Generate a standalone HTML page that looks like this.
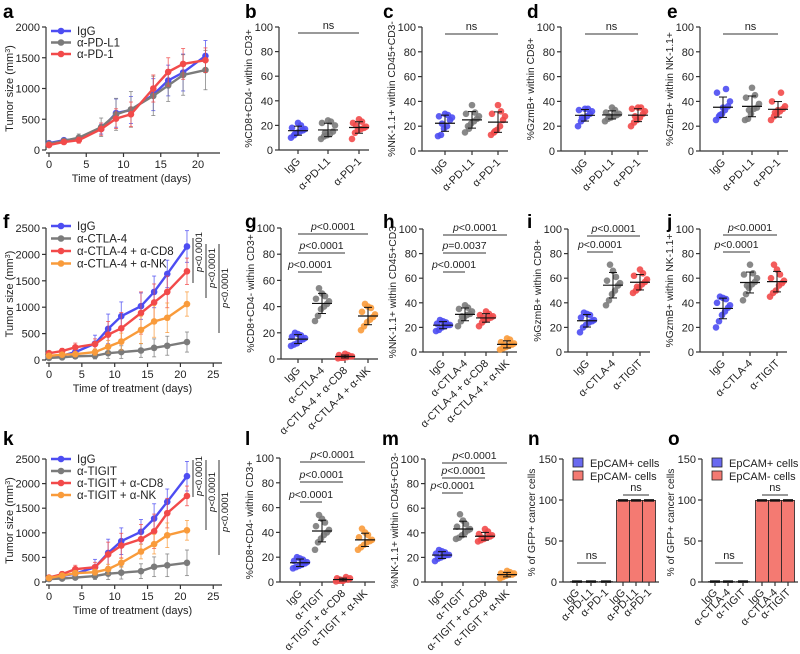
<!DOCTYPE html>
<html><head><meta charset="utf-8"><style>
html,body{margin:0;padding:0;background:#fff}
svg{display:block;font-family:"Liberation Sans",Arial,sans-serif}
</style></head><body>
<svg id="fig" width="800" height="654" viewBox="0 0 800 654"></svg>
<script>
// ---------- DATA ----------
const days=[0,2,4,7,9,11,14,16,18,21];
const aNames=["IgG","α-PD-L1","α-PD-1"];
const aIgG=[110,160,180,340,600,650,900,1130,1260,1530];
const aPDL1=[100,150,200,370,580,660,880,1050,1220,1300];
const aPD1=[80,130,160,340,510,580,1000,1270,1400,1460];
const aErr=[[30,30,40,80,230,220,260,250,300,250],[30,30,60,150,260,290,320,260,330,320],[30,30,50,100,160,200,220,230,250,200]];
const fNames=["IgG","α-CTLA-4","α-CTLA-4 + α-CD8","α-CTLA-4 + α-NK"];
const fIgG=[50,80,150,310,590,830,1020,1290,1630,2150];
const fCTLA=[40,50,70,80,130,150,180,230,270,340];
const fCD8=[130,170,240,300,480,600,890,1090,1290,1680];
const fNK=[80,100,110,150,250,350,570,730,800,1060];
const fErr=[[30,40,60,160,280,270,250,300,260,300],[30,30,40,60,100,120,130,170,180,190],[40,50,80,100,250,300,400,350,300,250],[30,40,40,60,120,160,260,300,280,230]];
const kNames=["IgG","α-TIGIT","α-TIGIT + α-CD8","α-TIGIT + α-NK"];
const kIgG=[70,120,170,300,590,830,1020,1290,1630,2150];
const kTIGIT=[60,70,90,120,170,190,220,310,340,390];
const kCD8=[90,160,260,300,560,740,870,1030,1400,1750];
const kNK=[80,130,180,200,260,390,620,770,950,1050];
const kErr=[[30,40,60,160,280,270,250,300,260,300],[30,30,40,70,120,130,150,200,230,260],[40,50,80,100,250,250,300,350,300,200],[30,40,50,60,100,90,150,200,250,200]];
const tick2000=[0,500,1000,1500,2000];
const tick2500=[0,500,1000,1500,2000,2500];
const tickPct=[0,20,40,60,80,100];
const bGroups=[[10,12,14,15,16,17,18,20,22,13],[9,11,12,13,15,20,22,23,24,14],[9,14,16,17,18,19,22,23,25,20]];
const cGroups=[[12,13,18,20,25,27,28,29,30,22],[15,20,22,24,26,28,30,31,37,18],[13,15,17,20,25,28,30,32,37,16]];
const dGroups=[[20,24,26,28,30,32,33,34,34,27],[24,26,27,28,29,30,31,33,35,28],[20,23,25,27,30,32,34,35,35,28]];
const eGroups=[[25,28,30,33,36,40,47,50,35,29],[25,26,30,34,35,38,43,45,51,33],[25,28,30,32,34,36,40,47,33,31]];
const gGroups=[[10,11,12,14,15,16,17,18,19,20],[29,33,38,40,42,44,46,48,50,54],[0.5,1,1,1.5,2,2,3,3,4,1],[22,25,28,30,32,34,36,39,40,42]];
const hGroups=[[17,18,20,21,22,22,23,24,25,26],[21,25,28,30,31,33,35,36,38,29],[21,24,26,27,28,29,30,31,33,28],[2,3,4,5,6,7,8,10,11,6]];
const iGroups=[[16,20,22,24,25,26,28,30,31,32],[38,42,47,50,54,56,58,61,66,71],[48,50,52,55,57,59,62,64,67,53]];
const jGroups=[[20,25,30,33,36,38,40,43,44,45],[42,47,52,55,57,60,63,64,71,54],[45,48,50,54,56,58,60,63,67,71]];
const lGroups=[[11,12,13,14,15,16,17,18,19,20],[26,32,35,38,40,42,45,48,51,54],[0.5,1,1,2,2,3,3,4,1,2],[26,28,30,32,33,34,36,38,40,43]];
const mGroups=[[17,19,20,21,22,22,23,24,25,26],[35,36,38,40,42,43,45,47,50,55],[33,34,35,36,37,38,39,41,43,36],[3,4,5,6,6,7,7,8,9,5]];
const pdCats=["IgG","α-PD-L1","α-PD-1"];
const ctlaCats=["IgG","α-CTLA-4","α-CTLA-4 + α-CD8","α-CTLA-4 + α-NK"];
const tigCats=["IgG","α-TIGIT","α-TIGIT + α-CD8","α-TIGIT + α-NK"];
const ijCats=["IgG","α-CTLA-4","α-TIGIT"];
const nCats=["IgG","α-PD-L1","α-PD-1","IgG","α-PD-L1","α-PD-1"];
const oCats=["IgG","α-CTLA-4","α-TIGIT","IgG","α-CTLA-4","α-TIGIT"];
const nVals=[0.5,0.5,0.5,99.5,99.5,99.5];
const oVals=[0.5,0.5,0.5,99.5,99.5,99.5];
const tick150=[0,50,100,150];

// ---------- helpers ----------
const NS="http://www.w3.org/2000/svg";
const svg=document.getElementById('fig');
const BLUE="#4d4df2",GRAY="#7b7b7b",RED="#f24a4a",ORANGE="#f99b3b";
function mk(tag,parent,attrs){const e=document.createElementNS(NS,tag);for(const k in attrs)e.setAttribute(k,attrs[k]);(parent||svg).appendChild(e);return e;}
function txt(parent,x,y,s,size,anchor,extra){const t=mk('text',parent,Object.assign({x:x,y:y,'font-size':size,'text-anchor':anchor||'start',fill:'#222'},extra||{}));t.textContent=s;return t;}
function panelLabel(ch,x,y){const t=txt(svg,x,y,ch,19,'start',{'font-weight':'bold',fill:'#000'});}
function yAxis(g,ax,y0,y1,ticks,vmax){
  const sc=v=>y0-(v/vmax)*(y0-y1);
  const l=mk('line',g,{x1:ax,x2:ax,y1:y0,y2:y1,stroke:'#333','stroke-width':1.2});
  
  ticks.forEach(t=>{const y=sc(t);mk('line',g,{x1:ax-4,x2:ax,y1:y,y2:y,stroke:'#333','stroke-width':1.2});
    const lb=txt(g,ax-6,y+4,String(t),11,'end');});
  return sc;
}
function yTitle(g,x,yc,s,size){const t=txt(g,x,yc,s,size||10,'middle',{transform:`rotate(-90 ${x} ${yc})`});}
function catLabels(g,xs,y,cats){cats.forEach((c,i)=>{const x=xs[i]+3;const t=txt(g,x,y,c,10.8,'end',{transform:`rotate(-45 ${x} ${y})`});});}
function sig(g,x1,x2,y,s){const l=mk('line',g,{x1:x1,x2:x2,y1:y,y2:y,stroke:'#333','stroke-width':1});
  let t;if(s==='ns'){t=txt(g,(x1+x2)/2,y-4,'ns',11,'middle');}else{t=mk('text',g,{x:(x1+x2)/2,y:y-4,'font-size':10.5,'text-anchor':'middle',fill:'#222'});const it=mk('tspan',t,{'font-style':'italic'});it.textContent='p';const r=mk('tspan',t,{});r.textContent=s;}
  }

function lineChart(name,cfg){
  const g=mk('g');
  const xs=d=>cfg.x0+d*cfg.xpx;
  const sc=yAxis(g,cfg.x0-3,cfg.y0,cfg.y1,cfg.ticks,cfg.vmax);
  const xa=mk('line',g,{x1:cfg.x0-3,x2:cfg.xend,y1:cfg.y0+3,y2:cfg.y0+3,stroke:'#333','stroke-width':1.2});
  
  cfg.xticks.forEach(t=>{const x=xs(t);mk('line',g,{x1:x,x2:x,y1:cfg.y0+3,y2:cfg.y0+7,stroke:'#333','stroke-width':1.2});
    const lb=txt(g,x,cfg.y0+18,String(t),11,'middle');});
  const xt=txt(g,(cfg.x0+cfg.xend)/2-3,cfg.y0+32,'Time of treatment (days)',11,'middle');
  const yt=mk('text',g,{x:13,y:(cfg.y0+cfg.y1)/2,'font-size':11,'text-anchor':'middle',fill:'#222',transform:`rotate(-90 13 ${(cfg.y0+cfg.y1)/2})`});
  yt.textContent='Tumor size (mm';const sup=mk('tspan',yt,{'baseline-shift':'super','font-size':7});sup.textContent='3';const cl=mk('tspan',yt,{});cl.textContent=')';
  
  cfg.series.forEach((s,si)=>{
    const sg=mk('g',g,{});
    s.forEach((v,i)=>{const e=cfg.err[si][i];const x=xs(days[i]);
      mk('line',sg,{x1:x,x2:x,y1:sc(v-e),y2:sc(v+e),stroke:cfg.colors[si],'stroke-width':0.9,opacity:0.8});
      mk('line',sg,{x1:x-2,x2:x+2,y1:sc(v+e),y2:sc(v+e),stroke:cfg.colors[si],'stroke-width':0.9,opacity:0.8});
      mk('line',sg,{x1:x-2,x2:x+2,y1:sc(v-e),y2:sc(v-e),stroke:cfg.colors[si],'stroke-width':0.9,opacity:0.8});});
    const p=mk('polyline',sg,{points:s.map((v,i)=>xs(days[i])+','+sc(v)).join(' '),fill:'none',stroke:cfg.colors[si],'stroke-width':2.4});
    
    s.forEach((v,i)=>{const c=mk('circle',sg,{cx:xs(days[i]),cy:sc(v),r:3.3,fill:cfg.colors[si]});});
  });
  cfg.names.forEach((n,i)=>{const y=cfg.ly+i*cfg.lsp;const lg=mk('g',g,{});
    mk('line',lg,{x1:51,x2:71,y1:y,y2:y,stroke:cfg.colors[i],'stroke-width':2.4});mk('circle',lg,{cx:61,cy:y,r:3.3,fill:cfg.colors[i]});
    txt(lg,77,y+4,n,11.5,'start');});
  return {g,sc};
}
function scatter(name,cfg){
  const g=mk('g');
  const sc=yAxis(g,cfg.ax,cfg.y0,cfg.y1,tickPct,100);
  const xa=mk('line',g,{x1:cfg.ax,x2:cfg.cx[cfg.cx.length-1]+10,y1:cfg.y0,y2:cfg.y0,stroke:'#333','stroke-width':1.2});
  
  cfg.cx.forEach(x=>mk('line',g,{x1:x,x2:x,y1:cfg.y0,y2:cfg.y0+4,stroke:'#333','stroke-width':1.2}));
  yTitle(g,cfg.ax-27,(cfg.y0+cfg.y1)/2,cfg.title,10.3);
  catLabels(g,cfg.cx,cfg.y0+12,cfg.cats);
  const jit=[-7,-4,-1,2,5,7,-6,3,0,-3];
  cfg.groups.forEach((vals,gi)=>{const x=cfg.cx[gi];const gg=mk('g',g,{});
    vals.forEach((v,i)=>{const c=mk('circle',gg,{cx:x+jit[i%10],cy:sc(v),r:3.3,fill:cfg.colors[gi],opacity:0.9});});
    const m=vals.reduce((a,b)=>a+b,0)/vals.length;const sd=Math.sqrt(vals.reduce((a,b)=>a+(b-m)*(b-m),0)/(vals.length-1));
    mk('line',gg,{x1:x-10,x2:x+10,y1:sc(m),y2:sc(m),stroke:'#111','stroke-width':1.2});
    mk('line',gg,{x1:x,x2:x,y1:sc(m-sd),y2:sc(m+sd),stroke:'#111','stroke-width':1});
    mk('line',gg,{x1:x-4,x2:x+4,y1:sc(m-sd),y2:sc(m-sd),stroke:'#111','stroke-width':1});
    mk('line',gg,{x1:x-4,x2:x+4,y1:sc(m+sd),y2:sc(m+sd),stroke:'#111','stroke-width':1});
  });
  cfg.sig.forEach(s=>sig(g,cfg.cx[s[0]],cfg.cx[s[1]],s[2],s[3]));
}
function bars(name,cfg){
  const g=mk('g');
  const sc=yAxis(g,cfg.ax,cfg.y0,cfg.y1,tick150,150);
  const xa=mk('line',g,{x1:cfg.ax,x2:cfg.cx[5]+10,y1:cfg.y0,y2:cfg.y0,stroke:'#333','stroke-width':1.2});
  
  yTitle(g,cfg.ax-28,(cfg.y0+cfg.y1)/2+2,'% of GFP+ cancer cells',10.3);
  cfg.vals.forEach((v,i)=>{const x=cfg.cx[i];const col=i<3?'#6a6af0':'#f47a72';
    const r=mk('rect',g,{x:x-6.5,y:sc(v),width:13,height:cfg.y0-sc(v),fill:col,stroke:'#222','stroke-width':0.8});
    
    mk('line',g,{x1:x-5,x2:x+5,y1:sc(v),y2:sc(v),stroke:'#111','stroke-width':2.5});
    mk('line',g,{x1:x,x2:x,y1:cfg.y0,y2:cfg.y0+4,stroke:'#333','stroke-width':1.2});});
  catLabels(g,cfg.cx,cfg.y0+11,cfg.cats);
  sig(g,cfg.cx[0],cfg.cx[2],cfg.y0-19,'ns');
  sig(g,cfg.cx[3],cfg.cx[5],cfg.y0-87,'ns');
  [['EpCAM+ cells','#6a6af0'],['EpCAM- cells','#f47a72']].forEach((e,i)=>{const lg=mk('g',g,{});
    const y=463+i*13;mk('rect',lg,{x:cfg.ax+10,y:y-5,width:10,height:9,fill:e[1],stroke:'#222','stroke-width':0.8});txt(lg,cfg.ax+27,y+4,e[0],11,'start');});
}

// ---------- BUILD ----------
panelLabel('a',3,18);panelLabel('b',245,18);panelLabel('c',383,18);panelLabel('d',527,18);panelLabel('e',667,18);
panelLabel('f',3,228);panelLabel('g',245,228);panelLabel('h',383,228);panelLabel('i',527,228);panelLabel('j',667,228);
panelLabel('k',3,445);panelLabel('l',245,445);panelLabel('m',382,445);panelLabel('n',528,445);panelLabel('o',668,445);

lineChart('panel-a-tumor-growth',{x0:49,xpx:7.45,xend:220,xticks:[0,5,10,15,20],y0:150,y1:27,vmax:2000,ticks:tick2000,
  series:[aIgG,aPDL1,aPD1],err:aErr,colors:[BLUE,GRAY,RED],names:aNames,ly:31,lsp:11.5});
const f=lineChart('panel-f-tumor-growth',{x0:49,xpx:6.57,xend:222,xticks:[0,5,10,15,20,25],y0:360,y1:228,vmax:2500,ticks:tick2500,
  series:[fIgG,fCTLA,fCD8,fNK],err:fErr,colors:[BLUE,GRAY,RED,ORANGE],names:fNames,ly:226,lsp:12.5});
const k=lineChart('panel-k-tumor-growth',{x0:49,xpx:6.57,xend:222,xticks:[0,5,10,15,20,25],y0:582,y1:459,vmax:2500,ticks:tick2500,
  series:[kIgG,kTIGIT,kCD8,kNK],err:kErr,colors:[BLUE,GRAY,RED,ORANGE],names:kNames,ly:459,lsp:12});
function vsig(g,x,ya,yb,yt){const l=mk('line',g,{x1:x,x2:x,y1:ya,y2:yb,stroke:'#333','stroke-width':1});
  const t=mk('text',g,{x:x+9,y:yt,'font-size':9.5,'text-anchor':'middle',fill:'#222',transform:`rotate(-90 ${x+9} ${yt})`});const it=mk('tspan',t,{'font-style':'italic'});it.textContent='p';const r=mk('tspan',t,{});r.textContent='<0.0001';
  }
vsig(f.g,193,238,283,252);vsig(f.g,206,244,298,268);vsig(f.g,219,244,333,288);
vsig(k.g,193,460,497,476);vsig(k.g,206,460,530,492);vsig(k.g,219,460,555,512);

const C3=[BLUE,GRAY,RED],C4=[BLUE,GRAY,RED,ORANGE];
scatter('panel-b',{ax:279,y0:150,y1:27,cx:[298,328,359],groups:bGroups,colors:C3,cats:pdCats,title:'%CD8+CD4- within CD3+',sig:[[0,2,33,'ns']]});
scatter('panel-c',{ax:422,y0:151,y1:27,cx:[445,472,498],groups:cGroups,colors:C3,cats:pdCats,title:'%NK-1.1+ within CD45+CD3-',sig:[[0,2,34,'ns']]});
scatter('panel-d',{ax:561,y0:151,y1:27,cx:[585,612,638],groups:dGroups,colors:C3,cats:pdCats,title:'%GzmB+ within CD8+',sig:[[0,2,34,'ns']]});
scatter('panel-e',{ax:700,y0:151,y1:27,cx:[723,752,778],groups:eGroups,colors:C3,cats:pdCats,title:'%GzmB+ within NK-1.1+',sig:[[0,2,34,'ns']]});
scatter('panel-g',{ax:281,y0:359,y1:228,cx:[298,322,345,368],groups:gGroups,colors:C4,cats:ctlaCats,title:'%CD8+CD4- within CD3+',sig:[[0,3,234,'<0.0001'],[0,2,253,'<0.0001'],[0,1,272,'<0.0001']]});
scatter('panel-h',{ax:423,y0:352,y1:229,cx:[443,465,486,507],groups:hGroups,colors:C4,cats:ctlaCats,title:'%NK-1.1+ within CD45+CD3-',sig:[[0,3,235,'<0.0001'],[0,2,253,'=0.0037'],[0,1,272,'<0.0001']]});
scatter('panel-i',{ax:568,y0:352,y1:229,cx:[587,613,640],groups:iGroups,colors:C3,cats:ijCats,title:'%GzmB+ within CD8+',sig:[[0,2,236,'<0.0001'],[0,1,252,'<0.0001']]});
scatter('panel-j',{ax:700,y0:352,y1:229,cx:[723,750,777],groups:jGroups,colors:C3,cats:ijCats,title:'%GzmB+ within NK-1.1+',sig:[[0,2,235,'<0.0001'],[0,1,252,'<0.0001']]});
scatter('panel-l',{ax:280,y0:582,y1:458,cx:[300,322,343,365],groups:lGroups,colors:C4,cats:tigCats,title:'%CD8+CD4- within CD3+',sig:[[0,3,462,'<0.0001'],[0,2,482,'<0.0001'],[0,1,502,'<0.0001']]});
scatter('panel-m',{ax:425,y0:582,y1:459,cx:[442,463,485,507],groups:mGroups,colors:C4,cats:tigCats,title:'%NK-1.1+ within CD45+CD3-',sig:[[0,3,463,'<0.0001'],[0,2,478,'<0.0001'],[0,1,493,'<0.0001']]});
bars('panel-n',{ax:563,y0:582,y1:459,cx:[577,591,606,623,636,649],vals:nVals,cats:nCats});
bars('panel-o',{ax:702,y0:582,y1:459,cx:[715,728,743,762,775,788],vals:oVals,cats:oCats});
</script>
</body></html>
